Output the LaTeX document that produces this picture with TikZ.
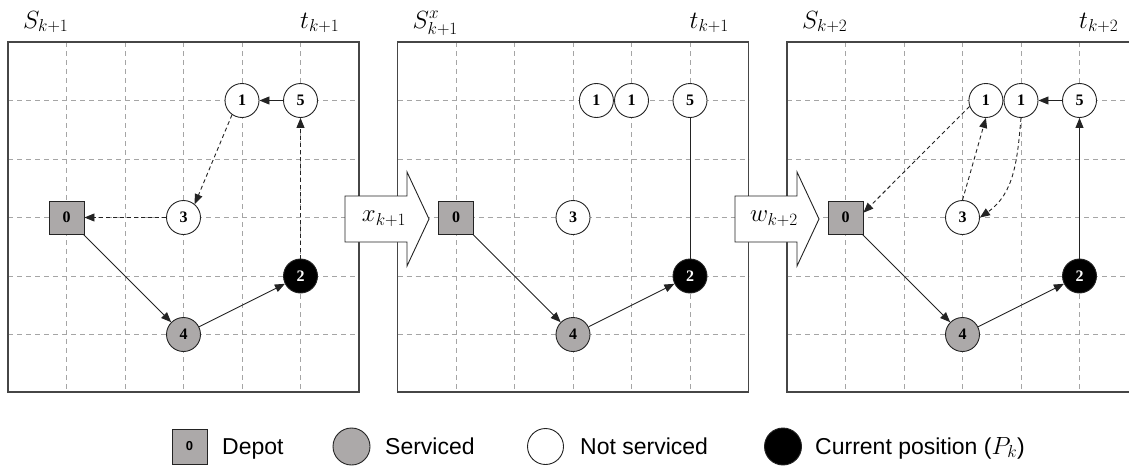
\documentclass[tikz,border=0pt]{standalone}
\usepackage{amsmath}
\usepackage{fontspec}
\usepackage{tikz}
\usetikzlibrary{arrows.meta}
\newfontfamily\legendfont{Liberation Sans}
\newfontfamily\digitfont{Liberation Serif}
\definecolor{nodegray}{RGB}{172,169,169}
\definecolor{gridgray}{RGB}{165,165,165}
\definecolor{framegray}{RGB}{70,70,70}
\definecolor{linegray}{RGB}{35,35,35}
\tikzset{
  cust/.style={circle, draw=linegray, line width=0.9pt, minimum size=34pt, inner sep=0pt, font=\digitfont\bfseries\fontsize{16}{16}\selectfont},
  depotbox/.style={cust, rectangle, fill=nodegray, minimum width=35pt, minimum height=33pt},
  servedcust/.style={cust, fill=nodegray},
  opencust/.style={cust, fill=white},
  nowcust/.style={cust, fill=black, text=white},
  route/.style={draw=linegray, line width=0.9pt, -{Triangle[length=10pt,width=8pt]}},
  plan/.style={route, dash pattern=on 4pt off 3pt},
  gridline/.style={draw=gridgray, line width=0.8pt, dash pattern=on 5pt off 4pt},
  frame/.style={draw=framegray, line width=1.6pt},
  bigarrow/.style={draw=linegray, line width=0.9pt, fill=white},
  mlabel/.style={font=\fontsize{26}{26}\selectfont, inner sep=0pt, anchor=base west},
  legtext/.style={font=\legendfont\fontsize{23}{23}\selectfont, inner sep=0pt, anchor=base west}
}
\begin{document}
\begin{tikzpicture}[x=1pt,y=-1pt]
\useasboundingbox (0,0) rectangle (1129,466);
\clip (0,0) rectangle (1129,466);
% the three states
\foreach \px/\sl/\tl in {8/S_{k+1}/t_{k+1}, 397.5/S^x_{k+1}/t_{k+1}, 787/S_{k+2}/t_{k+2}}{
  \foreach \i in {1,...,5}{
    \draw[gridline] (\px+58.5*\i,42) -- (\px+58.5*\i,392);
    \draw[gridline] (\px,42+58.5*\i) -- (\px+351,42+58.5*\i);
  }
  \draw[frame] (\px,42) rectangle (\px+351,392);
  \node[mlabel] at (\px+15,28) {$\sl$};
  \node[mlabel] at (\px+292,28) {$\tl$};
}
% decision and information arrows
\foreach \ax/\lab [count=\n] in {345/x_{k+1}, 735/w_{k+2}}{
  \draw[bigarrow] (\ax,196) -- (\ax+62,196) -- (\ax+62,172) -- (\ax+84,219)
    -- (\ax+62,266) -- (\ax+62,242) -- (\ax,242) -- cycle;
  \node[font=\fontsize{26}{26}\selectfont, inner sep=0pt] (act\n) at (\ax+39,219) {$\lab$};
}

\begin{scope}[shift={(8,42)}, x=58.5pt, y=-58.5pt]
  \node[depotbox] (a0) at (1,3) {0};
  \node[opencust] (a1) at (4,1) {1};
  \node[nowcust] (a2) at (5,4) {2};
  \node[opencust] (a3) at (3,3) {3};
  \node[servedcust] (a4) at (3,5) {4};
  \node[opencust] (a5) at (5,1) {5};
\end{scope}
\draw[route] (a0) -- (a4);
\draw[route] (a4) -- (a2);
\draw[plan] (a2) -- (a5);
\draw[route] (a5) -- (a1);
\draw[plan] (a1.235) -- (a3.50);
\draw[plan] (a3) -- (a0);

\begin{scope}[shift={(397.5,42)}, x=58.5pt, y=-58.5pt]
  \node[depotbox] (b0) at (1,3) {0};
  \node[opencust] (b1b) at (3.4,1) {1};
  \node[opencust] (b1) at (4,1) {1};
  \node[nowcust] (b2) at (5,4) {2};
  \node[opencust] (b3) at (3,3) {3};
  \node[servedcust] (b4) at (3,5) {4};
  \node[opencust] (b5) at (5,1) {5};
\end{scope}
\draw[route] (b0) -- (b4);
\draw[route] (b4) -- (b2);
\draw[draw=linegray, line width=0.9pt] (b2) -- (b5);

\begin{scope}[shift={(787,42)}, x=58.5pt, y=-58.5pt]
  \node[depotbox] (c0) at (1,3) {0};
  \node[opencust] (c1b) at (3.4,1) {1};
  \node[opencust] (c1) at (4,1) {1};
  \node[nowcust] (c2) at (5,4) {2};
  \node[opencust] (c3) at (3,3) {3};
  \node[servedcust] (c4) at (3,5) {4};
  \node[opencust] (c5) at (5,1) {5};
\end{scope}
\draw[route] (c0) -- (c4);
\draw[route] (c4) -- (c2);
\draw[route] (c2) -- (c5);
\draw[route] (c5) -- (c1);
\draw[plan] (c1b.200) -- (c0.15);
\draw[plan] (c3.north) -- (c1b.south);
\draw[plan] (c1.south) to[out=-95,in=35] (c3.east);

% legend
\node[depotbox, minimum width=35pt, minimum height=35pt, font=\legendfont\bfseries\fontsize{13}{13}\selectfont] (lg0) at (189.5,446.5) {0};
\node[legtext] (lt0) at (222,454) {Depot};
\node[servedcust, minimum size=37pt] (lg1) at (351.5,446.5) {};
\node[legtext] (lt1) at (385,454) {Serviced};
\node[opencust, minimum size=36pt] (lg2) at (545.5,446.5) {};
\node[legtext] (lt2) at (580,454) {Not serviced};
\node[nowcust, minimum size=37pt] (lg3) at (783,446.5) {};
\node[legtext] (lt3) at (815,454) {Current position ($P_k$)};
\end{tikzpicture}
\end{document}
